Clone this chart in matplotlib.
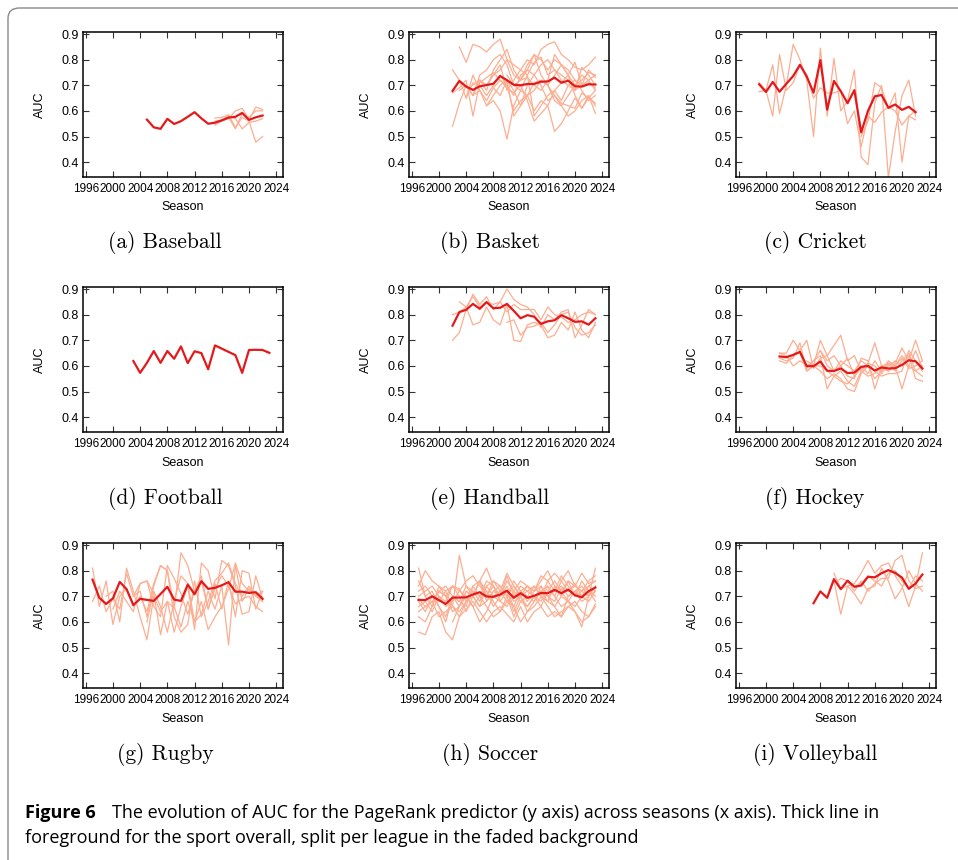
import matplotlib
matplotlib.use("Agg")
import matplotlib.pyplot as plt
from matplotlib.patches import FancyBboxPatch
import numpy as np

W, H = 958, 860
MAIN_COLOR = "#e31a1c"
BG_COLOR = "#fcae91"

# ---------------- data ----------------
# (a) Baseball
baseball_start = 2005
baseball_main = [0.566, 0.536, 0.530, 0.569, 0.549, 0.560, 0.577, 0.595, 0.571, 0.550,
                 0.554, 0.563, 0.574, 0.577, 0.592, 0.565, 0.575, 0.582]
baseball_leagues = [
    (2015, [0.572, 0.575, 0.585, 0.535, 0.575, 0.560, 0.478, 0.500]),
    (2015, [0.545, 0.560, 0.570, 0.600, 0.610, 0.565, 0.615, 0.605]),
    (2015, [0.560, 0.565, 0.580, 0.570, 0.530, 0.555, 0.560, 0.570]),
    (2017, [0.575, 0.530, 0.590, 0.575, 0.600, 0.600]),
]

# (b) Basket
basket_start = 2002
basket_main = [0.678, 0.717, 0.695, 0.682, 0.696, 0.701, 0.706, 0.736, 0.720, 0.702, 0.700,
               0.705, 0.705, 0.714, 0.715, 0.730, 0.710, 0.718, 0.696, 0.695, 0.704, 0.703]
basket_leagues = [
    (2002, [0.54, 0.63, 0.70, 0.66, 0.72, 0.70, 0.74, 0.76, 0.80, 0.74, 0.72, 0.73, 0.70, 0.68, 0.72, 0.82, 0.78, 0.74, 0.70, 0.72, 0.75, 0.74]),
    (2003, [0.85, 0.79, 0.86, 0.85, 0.83, 0.86, 0.88, 0.80, 0.78, 0.76, 0.80, 0.78, 0.84, 0.86, 0.87, 0.82, 0.80, 0.77, 0.76, 0.78, 0.81]),
    (2002, [0.76, 0.72, 0.65, 0.74, 0.68, 0.62, 0.64, 0.60, 0.49, 0.62, 0.68, 0.66, 0.60, 0.64, 0.62, 0.52, 0.55, 0.60, 0.65, 0.61, 0.66, 0.59]),
    (2002, [0.67, 0.69, 0.72, 0.58, 0.71, 0.73, 0.75, 0.72, 0.69, 0.67, 0.70, 0.64, 0.56, 0.59, 0.62, 0.68, 0.71, 0.74, 0.66, 0.61, 0.65, 0.63]),
    (2003, [0.68, 0.70, 0.66, 0.74, 0.76, 0.80, 0.82, 0.78, 0.70, 0.68, 0.74, 0.79, 0.81, 0.74, 0.76, 0.72, 0.70, 0.68, 0.77, 0.74, 0.70]),
    (2004, [0.65, 0.71, 0.70, 0.66, 0.70, 0.74, 0.70, 0.60, 0.64, 0.66, 0.68, 0.72, 0.70, 0.64, 0.62, 0.66, 0.70, 0.74, 0.72, 0.68]),
    (2005, [0.70, 0.72, 0.68, 0.76, 0.80, 0.84, 0.76, 0.72, 0.78, 0.82, 0.80, 0.76, 0.80, 0.78, 0.74, 0.79, 0.70, 0.72, 0.74]),
    (2005, [0.66, 0.68, 0.64, 0.69, 0.66, 0.72, 0.68, 0.62, 0.70, 0.74, 0.70, 0.64, 0.66, 0.63, 0.62, 0.61, 0.67, 0.65, 0.68]),
    (2006, [0.72, 0.70, 0.74, 0.78, 0.68, 0.72, 0.76, 0.74, 0.58, 0.62, 0.66, 0.68, 0.64, 0.70, 0.72, 0.68, 0.64, 0.66]),
    (2007, [0.62, 0.66, 0.70, 0.72, 0.58, 0.62, 0.66, 0.71, 0.72, 0.70, 0.74, 0.78, 0.76, 0.72, 0.70, 0.76, 0.73]),
    (2008, [0.69, 0.72, 0.70, 0.66, 0.74, 0.76, 0.82, 0.74, 0.70, 0.66, 0.62, 0.58, 0.60, 0.64, 0.66, 0.62]),
    (2010, [0.74, 0.70, 0.72, 0.76, 0.74, 0.78, 0.80, 0.76, 0.74, 0.72, 0.68, 0.70, 0.71, 0.69]),
]

# (c) Cricket
cricket_start = 1999
cricket_main = [0.704, 0.674, 0.713, 0.675, 0.706, 0.736, 0.780, 0.734, 0.671, 0.798, 0.605, 0.717,
                0.677, 0.630, 0.681, 0.516, 0.600, 0.657, 0.662, 0.612, 0.625, 0.604, 0.616, 0.595]
cricket_leagues = [
    (1999, [0.71, 0.68, 0.78, 0.59, 0.70, 0.86, 0.80, 0.72, 0.50, 0.845, 0.58, 0.805, 0.60, 0.64,
            0.76, 0.42, 0.39, 0.63, 0.70, 0.34, 0.52, 0.66, 0.72, 0.58]),
    (1999, [0.675, 0.68, 0.58, 0.82, 0.68, 0.71, 0.78, 0.74, 0.65, 0.69, 0.67, 0.67, 0.68, 0.55,
            0.60, 0.46, 0.58, 0.555, 0.595, 0.615, 0.60, 0.545, 0.58, 0.565]),
    (2014, [0.50, 0.56, 0.71, 0.69, 0.61, 0.67, 0.40, 0.58, 0.60]),
]

# (d) Football
football_years = [2003, 2004, 2005, 2006, 2007, 2008, 2009, 2010, 2011, 2012, 2013, 2014, 2015,
                  2018, 2019, 2020, 2021, 2022, 2023]
football_main = [0.619, 0.573, 0.612, 0.658, 0.612, 0.658, 0.628, 0.676, 0.611, 0.657, 0.650,
                 0.587, 0.680, 0.642, 0.573, 0.662, 0.663, 0.662, 0.651]

# (e) Handball
handball_start = 2002
handball_main = [0.757, 0.810, 0.819, 0.842, 0.823, 0.849, 0.825, 0.827, 0.842, 0.815, 0.786,
                 0.798, 0.792, 0.764, 0.774, 0.778, 0.798, 0.786, 0.772, 0.774, 0.761, 0.786]
handball_leagues = [
    (2002, [0.70, 0.73, 0.82, 0.88, 0.84, 0.87, 0.82, 0.85, 0.90, 0.86, 0.84, 0.83, 0.80, 0.75, 0.80, 0.78, 0.81, 0.82, 0.71, 0.76, 0.82, 0.80]),
    (2002, [0.80, 0.81, 0.83, 0.76, 0.77, 0.83, 0.78, 0.76, 0.84, 0.70, 0.695, 0.76, 0.77, 0.76, 0.71, 0.72, 0.77, 0.74, 0.81, 0.74, 0.71, 0.77]),
    (2003, [0.85, 0.83, 0.87, 0.83, 0.85, 0.84, 0.85, 0.81, 0.84, 0.82, 0.82, 0.82, 0.78, 0.83, 0.80, 0.79, 0.77, 0.78, 0.80, 0.81, 0.80]),
    (2010, [0.77, 0.78, 0.72, 0.75, 0.755, 0.77, 0.73, 0.76, 0.80, 0.81, 0.75, 0.72, 0.73, 0.76]),
]

# (f) Hockey
hockey_start = 2002
hockey_main = [0.637, 0.634, 0.643, 0.655, 0.599, 0.599, 0.617, 0.581, 0.580, 0.590, 0.572,
               0.574, 0.596, 0.600, 0.582, 0.594, 0.590, 0.591, 0.604, 0.622, 0.618, 0.590]
hockey_leagues = [
    (2002, [0.65, 0.65, 0.70, 0.66, 0.70, 0.59, 0.63, 0.64, 0.58, 0.60, 0.56, 0.55, 0.63, 0.62, 0.51, 0.59, 0.58, 0.60, 0.51, 0.60, 0.66, 0.59]),
    (2002, [0.62, 0.61, 0.64, 0.65, 0.58, 0.60, 0.70, 0.64, 0.68, 0.72, 0.62, 0.64, 0.58, 0.61, 0.69, 0.60, 0.58, 0.61, 0.67, 0.62, 0.70, 0.62]),
    (2002, [0.65, 0.64, 0.60, 0.62, 0.60, 0.62, 0.64, 0.51, 0.56, 0.58, 0.54, 0.52, 0.58, 0.56, 0.57, 0.60, 0.61, 0.58, 0.62, 0.65, 0.58, 0.56]),
    (2002, [0.63, 0.62, 0.63, 0.69, 0.58, 0.60, 0.60, 0.58, 0.56, 0.54, 0.53, 0.56, 0.60, 0.57, 0.62, 0.58, 0.60, 0.62, 0.60, 0.64, 0.55, 0.54]),
    (2006, [0.62, 0.60, 0.58, 0.55, 0.57, 0.55, 0.51, 0.50, 0.57, 0.60, 0.55, 0.58, 0.62, 0.60, 0.63, 0.59, 0.60, 0.62]),
    (2006, [0.59, 0.62, 0.66, 0.60, 0.58, 0.62, 0.60, 0.58, 0.62, 0.60, 0.58, 0.56, 0.57, 0.57, 0.58, 0.66, 0.62, 0.58]),
    (2008, [0.66, 0.62, 0.64, 0.60, 0.63, 0.56, 0.59, 0.61, 0.60, 0.57, 0.61, 0.60, 0.64, 0.60, 0.58, 0.60]),
]

# (g) Rugby
rugby_start = 1997
rugby_main = [0.765, 0.694, 0.670, 0.692, 0.756, 0.728, 0.666, 0.690, 0.686, 0.682, 0.709, 0.737,
              0.687, 0.682, 0.746, 0.708, 0.759, 0.729, 0.733, 0.743, 0.755, 0.718, 0.718, 0.713,
              0.716, 0.690]
rugby_leagues = [
    (1997, [0.81, 0.66, 0.76, 0.59, 0.70, 0.73, 0.66, 0.70, 0.64, 0.75, 0.82, 0.80, 0.66, 0.58, 0.68, 0.60, 0.63, 0.72, 0.65, 0.74, 0.51, 0.82, 0.68, 0.73, 0.70, 0.72]),
    (1997, [0.68, 0.74, 0.64, 0.69, 0.65, 0.79, 0.70, 0.75, 0.76, 0.71, 0.55, 0.68, 0.65, 0.87, 0.82, 0.72, 0.76, 0.65, 0.75, 0.65, 0.76, 0.62, 0.80, 0.79, 0.65, 0.72]),
    (1999, [0.70, 0.72, 0.60, 0.81, 0.72, 0.62, 0.53, 0.70, 0.64, 0.68, 0.56, 0.66, 0.74, 0.57, 0.83, 0.80, 0.69, 0.84, 0.82, 0.74, 0.63, 0.64, 0.78, 0.69]),
    (2000, [0.65, 0.72, 0.68, 0.64, 0.75, 0.76, 0.66, 0.62, 0.82, 0.77, 0.71, 0.63, 0.72, 0.78, 0.65, 0.73, 0.78, 0.74, 0.67, 0.69, 0.70, 0.66, 0.64]),
    (2003, [0.70, 0.72, 0.62, 0.74, 0.82, 0.80, 0.62, 0.56, 0.59, 0.76, 0.62, 0.68, 0.76, 0.79, 0.83, 0.75, 0.70, 0.74, 0.70, 0.68]),
    (2005, [0.60, 0.72, 0.66, 0.56, 0.68, 0.78, 0.75, 0.60, 0.68, 0.57, 0.62, 0.66, 0.73, 0.83, 0.75, 0.72, 0.71, 0.68]),
]

# (h) Soccer
soccer_start = 1997
soccer_main = [0.686, 0.685, 0.700, 0.685, 0.670, 0.695, 0.695, 0.696, 0.707, 0.716, 0.699, 0.698,
               0.707, 0.722, 0.694, 0.712, 0.694, 0.702, 0.713, 0.712, 0.725, 0.712, 0.726, 0.704,
               0.696, 0.720, 0.734]
soccer_leagues = [
    (1997, [0.81, 0.70, 0.66, 0.74, 0.72, 0.66, 0.86, 0.74, 0.70, 0.76, 0.68, 0.72, 0.70, 0.74, 0.68, 0.70, 0.72, 0.74, 0.70, 0.76, 0.72, 0.74, 0.70, 0.72, 0.74, 0.70, 0.81]),
    (1997, [0.56, 0.55, 0.62, 0.64, 0.56, 0.53, 0.62, 0.65, 0.68, 0.64, 0.60, 0.64, 0.66, 0.63, 0.60, 0.66, 0.60, 0.64, 0.66, 0.62, 0.64, 0.62, 0.66, 0.64, 0.60, 0.62, 0.67]),
    (1997, [0.74, 0.80, 0.76, 0.74, 0.70, 0.74, 0.72, 0.76, 0.78, 0.74, 0.70, 0.76, 0.72, 0.79, 0.74, 0.70, 0.74, 0.72, 0.78, 0.76, 0.79, 0.76, 0.72, 0.74, 0.79, 0.75, 0.76]),
    (1997, [0.68, 0.64, 0.70, 0.66, 0.62, 0.70, 0.66, 0.72, 0.70, 0.76, 0.72, 0.68, 0.64, 0.70, 0.62, 0.68, 0.66, 0.70, 0.72, 0.68, 0.66, 0.70, 0.68, 0.64, 0.58, 0.70, 0.72]),
    (1997, [0.62, 0.60, 0.66, 0.72, 0.74, 0.70, 0.68, 0.66, 0.74, 0.70, 0.66, 0.62, 0.64, 0.68, 0.66, 0.60, 0.64, 0.68, 0.72, 0.70, 0.66, 0.62, 0.70, 0.72, 0.68, 0.70, 0.74]),
    (1997, [0.72, 0.74, 0.70, 0.68, 0.72, 0.74, 0.70, 0.64, 0.70, 0.76, 0.81, 0.74, 0.70, 0.72, 0.66, 0.72, 0.70, 0.68, 0.74, 0.70, 0.72, 0.78, 0.74, 0.70, 0.76, 0.72, 0.70]),
    (1997, [0.66, 0.68, 0.64, 0.70, 0.66, 0.68, 0.72, 0.70, 0.66, 0.60, 0.64, 0.70, 0.72, 0.68, 0.70, 0.74, 0.72, 0.70, 0.66, 0.72, 0.76, 0.72, 0.68, 0.66, 0.70, 0.72, 0.68]),
    (1997, [0.70, 0.72, 0.74, 0.70, 0.68, 0.74, 0.73, 0.68, 0.72, 0.70, 0.76, 0.74, 0.70, 0.76, 0.72, 0.68, 0.70, 0.74, 0.70, 0.68, 0.74, 0.70, 0.76, 0.74, 0.72, 0.76, 0.78]),
    (1997, [0.64, 0.66, 0.68, 0.62, 0.64, 0.66, 0.62, 0.68, 0.70, 0.66, 0.68, 0.72, 0.74, 0.70, 0.74, 0.70, 0.66, 0.70, 0.68, 0.74, 0.70, 0.66, 0.68, 0.72, 0.70, 0.68, 0.72]),
    (1997, [0.76, 0.70, 0.72, 0.66, 0.60, 0.70, 0.68, 0.74, 0.72, 0.68, 0.74, 0.70, 0.68, 0.66, 0.72, 0.76, 0.74, 0.72, 0.76, 0.80, 0.74, 0.72, 0.76, 0.70, 0.72, 0.74, 0.76]),
    (1997, [0.69, 0.66, 0.68, 0.72, 0.70, 0.64, 0.66, 0.70, 0.66, 0.70, 0.72, 0.66, 0.70, 0.78, 0.70, 0.72, 0.68, 0.72, 0.74, 0.70, 0.68, 0.73, 0.72, 0.75, 0.70, 0.74, 0.72]),
    (2000, [0.72, 0.70, 0.66, 0.64, 0.68, 0.74, 0.76, 0.70, 0.74, 0.68, 0.72, 0.64, 0.70, 0.64, 0.66, 0.70, 0.66, 0.62, 0.64, 0.66, 0.68, 0.64, 0.62, 0.66]),
    (2002, [0.60, 0.66, 0.72, 0.70, 0.66, 0.74, 0.76, 0.74, 0.70, 0.76, 0.72, 0.74, 0.70, 0.72, 0.74, 0.70, 0.76, 0.80, 0.74, 0.72, 0.70, 0.74]),
]

# (i) Volleyball
volley_start = 2007
volley_main = [0.673, 0.719, 0.694, 0.767, 0.728, 0.761, 0.737, 0.742, 0.776, 0.774, 0.790,
               0.802, 0.791, 0.773, 0.729, 0.750, 0.785]
volley_leagues = [
    (2010, [0.79, 0.73, 0.74, 0.75, 0.79, 0.84, 0.79, 0.82, 0.83, 0.78, 0.74, 0.66, 0.74, 0.87]),
    (2010, [0.76, 0.63, 0.74, 0.71, 0.67, 0.73, 0.74, 0.81, 0.76, 0.69, 0.73, 0.80, 0.75, 0.72]),
    (2010, [0.75, 0.77, 0.76, 0.72, 0.76, 0.72, 0.75, 0.77, 0.77, 0.84, 0.86, 0.76, 0.73, 0.74]),
    (2012, [0.76, 0.74, 0.75, 0.78, 0.76, 0.74, 0.79, 0.80, 0.76, 0.73, 0.78, 0.76]),
]

captions = ["(a) Baseball", "(b) Basket", "(c) Cricket", "(d) Football", "(e) Handball",
            "(f) Hockey", "(g) Rugby", "(h) Soccer", "(i) Volleyball"]
x_ticks = [1996, 2000, 2004, 2008, 2012, 2016, 2020, 2024]
y_ticks = [0.4, 0.5, 0.6, 0.7, 0.8, 0.9]


def yrs(start, vals):
    return np.arange(start, start + len(vals))


panels = [
    (yrs(baseball_start, baseball_main), baseball_main, baseball_leagues),
    (yrs(basket_start, basket_main), basket_main, basket_leagues),
    (yrs(cricket_start, cricket_main), cricket_main, cricket_leagues),
    (np.array(football_years), football_main, []),
    (yrs(handball_start, handball_main), handball_main, handball_leagues),
    (yrs(hockey_start, hockey_main), hockey_main, hockey_leagues),
    (yrs(rugby_start, rugby_main), rugby_main, rugby_leagues),
    (yrs(soccer_start, soccer_main), soccer_main, soccer_leagues),
    (yrs(volley_start, volley_main), volley_main, volley_leagues),
]

# ---------------- layout ----------------
fig = plt.figure(figsize=(W / 100, H / 100), dpi=100)
fig.patch.set_facecolor("white")

# rounded frame around figure
frame = FancyBboxPatch((8 / W, -0.2), 1.2, 1.2 - 8 / H, transform=fig.transFigure,
                       boxstyle="round,pad=0,rounding_size=0.012", fill=False,
                       edgecolor="#8a8a8a", linewidth=1.0)
fig.patches.append(frame)

col_left = [83, 409, 736]
col_w = 200
row_top = [32, 287, 543]
row_h = 145
cap_x = [165, 490, 815]
cap_y = [242, 498, 754]

SANS = "Liberation Sans"
xtick_font = dict(family=SANS, size=8.5)
ytick_font = dict(family=SANS, size=9.0)

for i, (xs, main, leagues) in enumerate(panels):
    r, c = divmod(i, 3)
    ax = fig.add_axes([col_left[c] / W, 1 - (row_top[r] + row_h) / H, col_w / W, row_h / H])
    for start, vals in leagues:
        ax.plot(yrs(start, vals), vals, color=BG_COLOR, lw=0.9, zorder=1)
    ax.plot(xs, main, color=MAIN_COLOR, lw=1.6, zorder=3)
    ax.set_xlim(1995.6, 2025.0)
    ax.set_ylim(0.342, 0.908)
    ax.set_xticks(x_ticks)
    ax.set_yticks(y_ticks)
    ax.set_xticklabels([str(t) for t in x_ticks], **xtick_font)
    ax.set_yticklabels([f"{t:.1f}" for t in y_ticks], **ytick_font)
    ax.tick_params(direction="in", top=True, right=True, length=4, width=0.8,
                   color="#333333")
    ax.tick_params(axis="x", pad=4)
    ax.tick_params(axis="y", pad=3)
    for s in ax.spines.values():
        s.set_linewidth(1.1)
    ax.set_xlabel("Season", fontfamily=SANS, fontsize=9.0, labelpad=5)
    ax.set_ylabel("AUC", fontfamily=SANS, fontsize=9.0, labelpad=11)
    fig.text(cap_x[c] / W, 1 - cap_y[r] / H, captions[i], ha="center", va="center",
             fontfamily="cmr10", fontsize=15.5)

# figure caption
CAP_FONT = ["Open Sans"]
fig.text(25 / W, 1 - 813 / H, "Figure 6", ha="left", va="center", fontweight="bold",
         fontfamily=CAP_FONT, fontsize=13)
fig.text(112 / W, 1 - 813 / H,
         "The evolution of AUC for the PageRank predictor (y axis) across seasons (x axis). Thick line in",
         ha="left", va="center", fontfamily=CAP_FONT, fontsize=13)
fig.text(25 / W, 1 - 838 / H,
         "foreground for the sport overall, split per league in the faded background",
         ha="left", va="center", fontfamily=CAP_FONT, fontsize=13)

fig.savefig("out.png", dpi=100)
